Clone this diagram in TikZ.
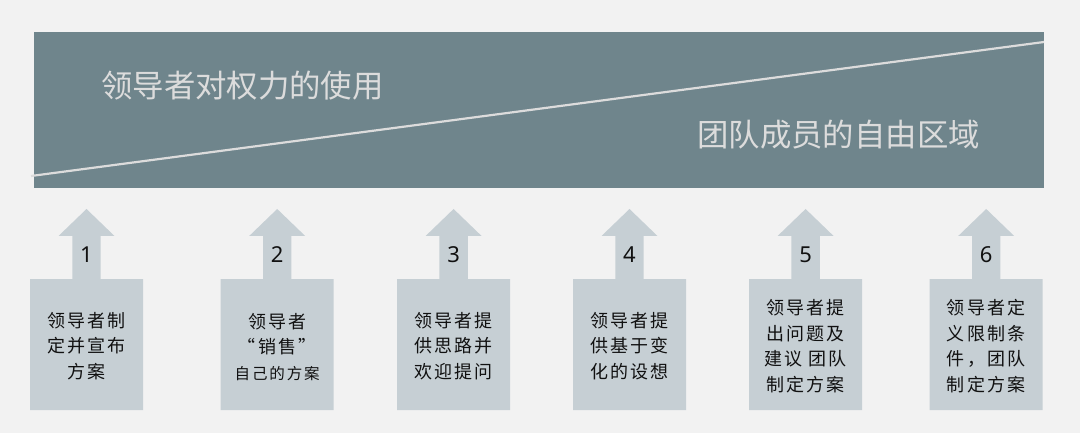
\documentclass[tikz,border=0pt]{standalone}
\usepackage{fontspec}
\newfontfamily\cjk{Noto Sans CJK SC}
\newfontfamily\cjksp[LetterSpace=12]{Noto Sans CJK SC}
\newfontfamily\numf{Noto Sans}
\definecolor{bgc}{HTML}{F2F2F2}
\definecolor{bannerc}{HTML}{6F858C}
\definecolor{linec}{HTML}{DCDCDC}
\definecolor{arrowc}{HTML}{C6CFD4}
\definecolor{textc}{HTML}{111111}
\tikzset{
  titletext/.style={text=linec, inner sep=0pt, font=\cjk\fontsize{31.4}{36}\selectfont},
  numtext/.style={text=textc, inner sep=0pt, font=\numf\fontsize{22}{26}\selectfont},
  boxtext/.style={text=textc, inner sep=0pt, align=center, font=\cjksp\fontsize{18}{25.5}\selectfont},
  arrowshape/.style={fill=arrowc}
}
\begin{document}
\begin{tikzpicture}[x=1pt,y=-1pt]
\fill[bgc] (0,0) rectangle (1080,433);
\useasboundingbox (0,0) rectangle (1080,433);
\fill[bannerc] (34,32) rectangle (1044,188);
\coordinate (lstart) at (31,176);
\coordinate (lend) at (1044,42);
\draw[linec, line width=2.2pt] (lstart) -- (lend);
\node[titletext, anchor=west] (tleft) at (101,86) {领导者对权力的使用};
\node[titletext, anchor=west] (tright) at (697,135) {团队成员的自由区域};
\foreach \c/\n in {86.5/1, 277.2/2, 453.6/3, 629.5/4, 805.6/5, 986.2/6}{
  \fill[arrowshape] (\c-56.5,410) -- (\c-56.5,279) -- (\c-14.2,279) -- (\c-14.2,236) -- (\c-28,236) -- (\c,209) -- (\c+28,236) -- (\c+14.2,236) -- (\c+14.2,279) -- (\c+56.5,279) -- (\c+56.5,410) -- cycle;
  \node[numtext] (n\n) at (\c,255) {\n};
}
\node[boxtext] (b1) at (86.5,346) {领导者制\\定并宣布\\方案};
\node[boxtext] (b2) at (277.2,347) {领导者\\“销售”\\{\fontsize{15.5}{20}\selectfont 自己的方案}};
\node[boxtext] (b3) at (453.6,346) {领导者提\\供思路并\\欢迎提问};
\node[boxtext] (b4) at (629.5,346) {领导者提\\供基于变\\化的设想};
\node[boxtext] (b5) at (805.6,346) {领导者提\\出问题及\\建议 团队\\制定方案};
\node[boxtext] (b6) at (986.2,346) {领导者定\\义限制条\\件，团队\\制定方案};
\end{tikzpicture}
\end{document}
